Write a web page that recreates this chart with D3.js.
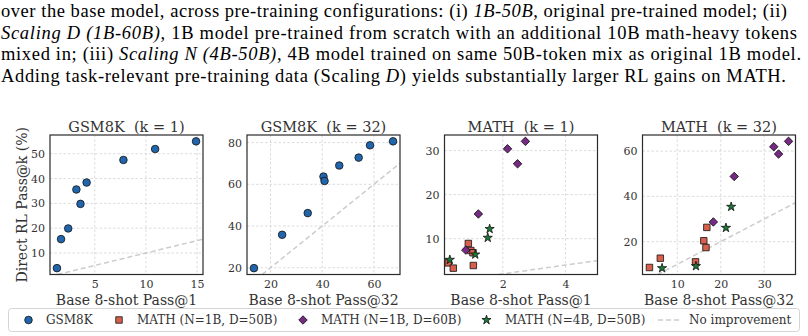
<!DOCTYPE html>
<html>
<head>
<meta charset="utf-8">
<script src="https://cdn.jsdelivr.net/npm/d3@7"></script>
<style>
  body { margin: 0; background: #fff; }
  svg { display: block; }
  .cap { font-family: 'Liberation Serif', 'Times New Roman', serif; }
  .ser { font-family: 'DejaVu Serif', serif; white-space: pre; }
</style>
</head>
<body>
<div id="chart"></div>
<script>
// ---- data ----
const gsm1Base = [1.3, 1.7, 2.4, 3.2, 3.6, 4.2, 7.8, 10.9, 14.9];
const gsm1RL   = [3.9, 15.6, 19.9, 35.6, 29.8, 38.4, 47.5, 51.9, 55.0];

const gsm32Base = [13.6, 24.5, 34.4, 40.5, 40.9, 46.6, 54.1, 58.5, 67.4];
const gsm32RL   = [19.8, 35.8, 46.2, 63.7, 61.6, 69.0, 72.8, 78.7, 80.6];

const math1D50Base = [0.26, 0.42, 0.90, 0.98, 1.05, 1.06];
const math1D50RL   = [4.5, 3.3, 8.9, 7.3, 6.8, 3.9];
const math1D60Base = [0.82, 1.22, 2.15, 2.47, 2.72];
const math1D60RL   = [7.4, 15.6, 30.4, 27.0, 32.1];
const math1N4Base  = [0.31, 1.12, 1.52, 1.58];
const math1N4RL    = [5.2, 6.4, 10.2, 12.2];

const math32D50Base = [3.6, 6.1, 14.2, 16.1, 16.6, 16.8];
const math32D50RL   = [8.6, 12.7, 11.1, 20.4, 17.4, 26.3];
const math32D60Base = [18.3, 23.1, 32.2, 33.3, 35.6];
const math32D60RL   = [28.7, 48.8, 61.9, 58.7, 64.3];
const math32N4Base  = [6.5, 14.3, 21.2, 22.4];
const math32N4RL    = [8.3, 9.2, 26.1, 35.4];

const panelTitles = ["GSM8K  (k = 1)", "GSM8K  (k = 32)", "MATH  (k = 1)", "MATH  (k = 32)"];
const xLabels = ["Base 8-shot Pass@1", "Base 8-shot Pass@32", "Base 8-shot Pass@1", "Base 8-shot Pass@32"];
const yLabel = "Direct RL Pass@k (%)";
const xTicks = [[5, 10, 15], [20, 40, 60], [2, 4], [10, 20, 30]];
const yTicks = [[10, 20, 30, 40, 50], [20, 40, 60, 80], [10, 20, 30], [20, 40, 60]];
const legendLabels = ["GSM8K", "MATH (N=1B, D=50B)", "MATH (N=1B, D=60B)", "MATH (N=4B, D=50B)", "No improvement"];

const colors = { gsm: "#2166ac", d50: "#d6604d", d60: "#762a83", n4: "#1b7837" };

const W = 808, H = 336;
const svg = d3.select("#chart").append("svg").attr("width", W).attr("height", H);

// ---- caption text above the figure ----
const capLines = [
  [["over the base model, across pre-training configurations: (i) ", false], ["1B-50B", true], [", original pre-trained model; (ii)", false]],
  [["Scaling D (1B-60B)", true], [", 1B model pre-trained from scratch with an additional 10B math-heavy tokens", false]],
  [["mixed in; (iii) ", false], ["Scaling N (4B-50B)", true], [", 4B model trained on same 50B-token mix as original 1B model.", false]],
  [["Adding task-relevant pre-training data (Scaling ", false], ["D", true], [") yields substantially larger RL gains on MATH.", false]]
];
const capWidths = [786, 796, 800, 785];
capLines.forEach((parts, i) => {
  const t = svg.append("text").attr("class", "cap")
    .attr("x", 1).attr("y", 17 + i * 21.5)
    .attr("font-size", 18.5).attr("fill", "#000")
    .attr("textLength", capWidths[i]).attr("lengthAdjust", "spacing");
  parts.forEach(([s, it]) => t.append("tspan").attr("font-style", it ? "italic" : "normal").text(s));
});

// ---- marker helpers ----
function drawMarker(g, kind, x, y) {
  if (kind === "gsm") {
    g.append("circle").attr("cx", x).attr("cy", y).attr("r", 3.8)
      .attr("fill", colors.gsm).attr("stroke", "#111").attr("stroke-width", 0.8);
  } else if (kind === "d50") {
    g.append("path").attr("d", d3.symbol(d3.symbolSquare, 42)())
      .attr("transform", `translate(${x},${y})`)
      .attr("fill", colors.d50).attr("stroke", "#111").attr("stroke-width", 0.8);
  } else if (kind === "d60") {
    g.append("path").attr("d", d3.symbol(d3.symbolSquare, 36)())
      .attr("transform", `translate(${x},${y}) rotate(45)`)
      .attr("fill", colors.d60).attr("stroke", "#111").attr("stroke-width", 0.8);
  } else {
    g.append("path").attr("d", d3.symbol(d3.symbolStar, 26)())
      .attr("transform", `translate(${x},${y})`)
      .attr("fill", colors.n4).attr("stroke", "#111").attr("stroke-width", 0.8);
  }
}

function padded(vals) {
  const [a, b] = d3.extent(vals);
  const m = (b - a) * 0.05;
  return [a - m, b + m];
}

// ---- panels ----
const panels = [
  { series: [["gsm", gsm1Base, gsm1RL]] },
  { series: [["gsm", gsm32Base, gsm32RL]] },
  { series: [["d50", math1D50Base, math1D50RL], ["d60", math1D60Base, math1D60RL], ["n4", math1N4Base, math1N4RL]], xMax: 5.02 },
  { series: [["d50", math32D50Base, math32D50RL], ["d60", math32D60Base, math32D60RL], ["n4", math32N4Base, math32N4RL]] }
];
const lefts = [50, 247, 444.5, 642.5];
const pw = 153, plotTop = 135, plotBottom = 274.5;

panels.forEach((p, i) => {
  const allX = p.series.flatMap(s => s[1]);
  const allY = p.series.flatMap(s => s[2]);
  const xd = padded(allX);
  if (p.xMax) { xd[0] = 0.14; xd[1] = p.xMax; }
  const x = d3.scaleLinear().domain(xd).range([lefts[i], lefts[i] + pw]);
  const y = d3.scaleLinear().domain(padded(allY)).range([plotBottom, plotTop]);
  const g = svg.append("g");

  // grid
  g.selectAll(".gx").data(xTicks[i]).join("line")
    .attr("x1", d => x(d)).attr("x2", d => x(d)).attr("y1", plotTop).attr("y2", plotBottom)
    .attr("stroke", "#d3d3d3").attr("stroke-width", 0.8).attr("stroke-dasharray", "2.5,2");
  g.selectAll(".gy").data(yTicks[i]).join("line")
    .attr("y1", d => y(d)).attr("y2", d => y(d)).attr("x1", lefts[i]).attr("x2", lefts[i] + pw)
    .attr("stroke", "#d3d3d3").attr("stroke-width", 0.8).attr("stroke-dasharray", "2.5,2");

  // identity line
  const lo = Math.max(xd[0], y.domain()[0]), hi = Math.min(xd[1], y.domain()[1]);
  g.append("line")
    .attr("x1", x(lo)).attr("y1", y(lo)).attr("x2", x(hi)).attr("y2", y(hi))
    .attr("stroke", "#cccccc").attr("stroke-width", 1.5).attr("stroke-dasharray", "5,3");

  // points
  p.series.forEach(([kind, xs, ys]) => {
    xs.forEach((v, j) => drawMarker(g, kind, x(v), y(ys[j])));
  });

  // frame
  g.append("rect").attr("x", lefts[i]).attr("y", plotTop).attr("width", pw).attr("height", plotBottom - plotTop)
    .attr("fill", "none").attr("stroke", "#2a2a2a").attr("stroke-width", 1.2);

  // axes (labels only, no tick marks)
  const ax = d3.axisBottom(x).tickValues(xTicks[i]).tickFormat(d3.format("d")).tickSize(0).tickPadding(6);
  const axg = g.append("g").attr("transform", `translate(0,${plotBottom})`).call(ax);
  const ay = d3.axisLeft(y).tickValues(yTicks[i]).tickFormat(d3.format("d")).tickSize(0).tickPadding(5);
  const ayg = g.append("g").attr("transform", `translate(${lefts[i]},0)`).call(ay);
  [axg, ayg].forEach(a => {
    a.select(".domain").remove();
    a.attr("font-family", null).attr("font-size", null);
    a.selectAll("text").attr("class", "ser").attr("font-size", 11).attr("fill", "#333");
  });

  // title & x label
  g.append("text").attr("class", "ser").attr("x", lefts[i] + pw / 2).attr("y", 131.5).attr("text-anchor", "middle")
    .attr("font-size", 14.5).attr("fill", "#333").text(panelTitles[i]);
  g.append("text").attr("class", "ser").attr("x", lefts[i] + pw / 2).attr("y", 304.5).attr("text-anchor", "middle")
    .attr("font-size", 14).attr("fill", "#333").text(xLabels[i]);
});

// y label on first panel
svg.append("text").attr("class", "ser")
  .attr("transform", `translate(26.5,${(plotTop + plotBottom) / 2}) rotate(-90)`)
  .attr("text-anchor", "middle").attr("font-size", 14).attr("fill", "#333")
  .text(yLabel);

// ---- legend ----
const lg = svg.append("g");
lg.append("rect").attr("x", 8.5).attr("y", 308.5).attr("width", 791).attr("height", 23).attr("rx", 3)
  .attr("fill", "#fff").attr("stroke", "#d5d5d5").attr("stroke-width", 1);
const legY = 320;
const legKinds = ["gsm", "d50", "d60", "n4"];
const legMarkX = [28.5, 119, 303, 486.5];
const legTextX = [46, 137, 321, 505];
legKinds.forEach((k, i) => {
  drawMarker(lg, k, legMarkX[i], legY);
  lg.append("text").attr("class", "ser").attr("x", legTextX[i]).attr("y", legY + 4.2)
    .attr("font-size", 12).attr("fill", "#333").text(legendLabels[i]);
});
lg.append("line").attr("x1", 658).attr("x2", 682).attr("y1", legY).attr("y2", legY)
  .attr("stroke", "#cccccc").attr("stroke-width", 1.5).attr("stroke-dasharray", "5,3");
lg.append("text").attr("class", "ser").attr("x", 689).attr("y", legY + 4.2)
  .attr("font-size", 12).attr("fill", "#333").text(legendLabels[4]);
</script>
</body>
</html>
